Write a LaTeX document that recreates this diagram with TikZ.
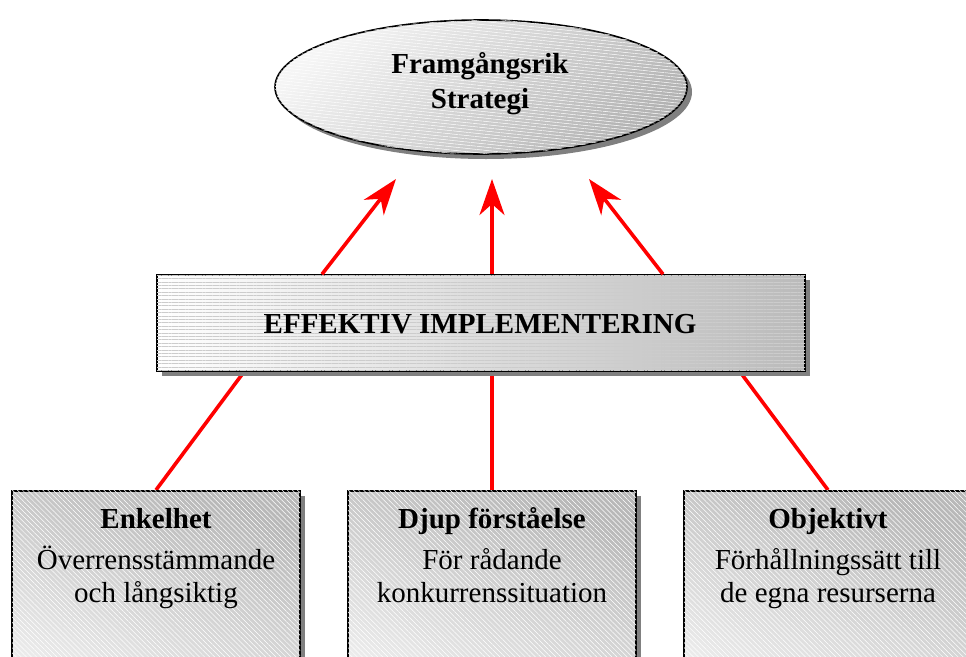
\documentclass[tikz,border=0pt]{standalone}
\usepackage{fontspec}
\setmainfont{Liberation Serif}
\usetikzlibrary{shapes.geometric,shadows,arrows.meta,patterns.meta,backgrounds}

\begin{document}
\begin{tikzpicture}[x=1pt,y=-1pt,
  txt/.style={font=\fontsize{29}{35}\selectfont, anchor=base, inner sep=0pt},
  hdr/.style={font=\fontsize{29}{35}\selectfont\bfseries, anchor=base, inner sep=0pt},
  shadowed/.style={drop shadow={shadow xshift=5pt, shadow yshift=-5pt, fill=black!50, opacity=1}},
  goal/.style={ellipse, draw=black, line width=1.6pt, minimum width=412pt, minimum height=134pt,
    inner sep=0pt, shadowed, top color=black!4, bottom color=black!30, shading angle=40,
    postaction={pattern={Lines[angle=-6,distance=3.2pt,line width=0.5pt]}, pattern color=white, fill opacity=0.45}},
  bar/.style={rectangle, draw=black, line width=1.6pt, minimum width=648pt, minimum height=96pt,
    inner sep=0pt, shadowed, left color=white, right color=black!27,
    postaction={pattern={Lines[angle=0,distance=3.4pt,line width=0.6pt]}, pattern color=black!20, fill opacity=0.5}},
  card/.style={rectangle, draw=black, line width=1.6pt, minimum width=288pt, minimum height=240pt,
    inner sep=0pt, anchor=north, shadowed, top color=black!28, bottom color=black!4, shading angle=-20,
    postaction={pattern={Lines[angle=-45,distance=3.6pt,line width=0.5pt]}, pattern color=white, fill opacity=0.4}},
  link/.style={draw=red, line width=3.6pt},
  rise/.style={link, -{Stealth[length=36pt,width=25pt,inset=11pt]}}
]
\useasboundingbox (0,0) rectangle (966,656);
\clip (0,0) rectangle (966,656);

% arrow tips below the goal ellipse
\coordinate (tipL) at (396,179);
\coordinate (tipM) at (492,179);
\coordinate (tipR) at (589,179);

% bottom cards
\node[card] (b1) at (156,490) {};
\node[card] (b2) at (492,490) {};
\node[card] (b3) at (828,490) {};

% middle bar
\node[bar] (imp) at (481,323) {};
\node[hdr] (impt) at (480,333) {EFFEKTIV IMPLEMENTERING};

% links from the cards up to the bar, passing beneath the bar's shadow
\begin{scope}[on background layer]
\draw[link] (b1.north) -- ([xshift=-237pt]imp.south);
\draw[link] (b2.north) -- ([xshift=11pt]imp.south);
\draw[link] (b3.north) -- ([xshift=259pt]imp.south);
\end{scope}

% goal ellipse
\node[goal] (goal) at (481,87) {};
\node[hdr] (g1) at (480,73) {Framgångsrik};
\node[hdr] (g2) at (480,108) {Strategi};

% arrows from the bar up to the goal
\draw[rise] ([xshift=-159pt]imp.north) -- (tipL);
\draw[rise] ([xshift=11pt]imp.north) -- (tipM);
\draw[rise] ([xshift=182pt]imp.north) -- (tipR);

% card texts
\node[hdr] (c1h) at (156,528) {Enkelhet};
\node[txt] (c1a) at (156,569) {Överrensstämmande};
\node[txt] (c1b) at (156,602) {och långsiktig};

\node[hdr] (c2h) at (492,528) {Djup förståelse};
\node[txt] (c2a) at (492,569) {För rådande};
\node[txt] (c2b) at (492,602) {konkurrenssituation};

\node[hdr] (c3h) at (828,528) {Objektivt};
\node[txt] (c3a) at (828,569) {Förhållningssätt till};
\node[txt] (c3b) at (828,602) {de egna resurserna};
\end{tikzpicture}
\end{document}
